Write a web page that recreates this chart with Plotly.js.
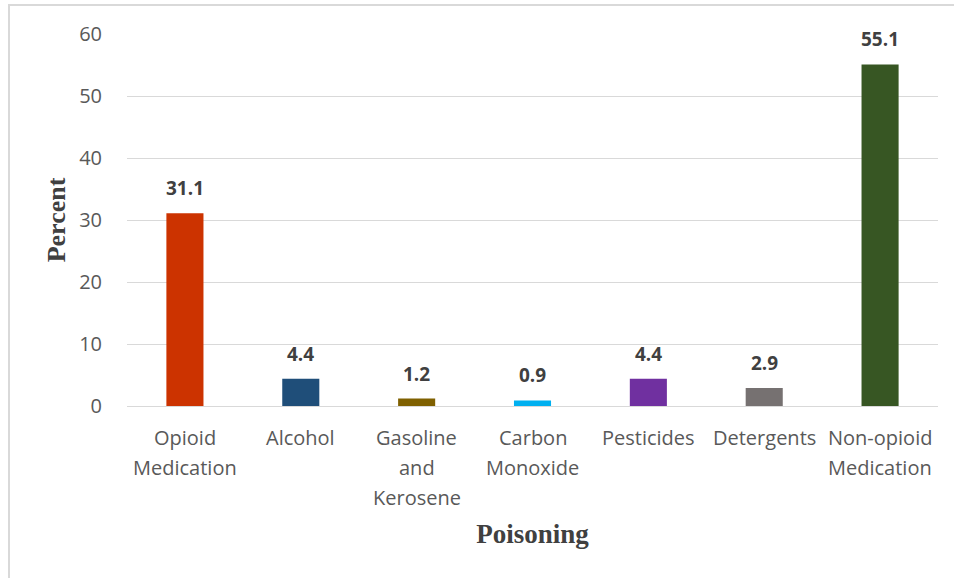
<!DOCTYPE html>
<html>
<head>
<meta charset="utf-8">
<script src="https://cdn.plot.ly/plotly-3.0.1.min.js"></script>
<style>
  html, body { margin: 0; padding: 0; background: #ffffff; }
  #chart { width: 954px; height: 578px; }
</style>
</head>
<body>
<div id="chart"></div>
<script>
// Share of poisoning cases by agent
const categories = [
  "Opioid Medication",
  "Alcohol",
  "Gasoline and Kerosene",
  "Carbon Monoxide",
  "Pesticides",
  "Detergents",
  "Non-opioid Medication"
];
// category names broken into the lines shown under the axis
const categoryLines = [
  ["Opioid", "Medication"],
  ["Alcohol"],
  ["Gasoline", "and", "Kerosene"],
  ["Carbon", "Monoxide"],
  ["Pesticides"],
  ["Detergents"],
  ["Non-opioid", "Medication"]
];
const percents = [31.1, 4.4, 1.2, 0.9, 4.4, 2.9, 55.1];
const barColors = ["#cc3300", "#1f4e79", "#7f6000", "#00b0f0", "#7030a0", "#767171", "#375623"];
const yTicks = [0, 10, 20, 30, 40, 50, 60];

const trace = {
  type: "bar",
  x: categories,
  y: percents,
  marker: { color: barColors },
  hoverinfo: "x+y",
  cliponaxis: false
};

// value labels sit a fixed distance above each bar top
const valueLabels = categories.map((c, i) => ({
  x: c,
  y: percents[i],
  xref: "x",
  yref: "y",
  text: "<b>" + percents[i].toFixed(1) + "</b>",
  showarrow: false,
  yanchor: "bottom",
  yshift: 10,
  font: { family: "Open Sans, sans-serif", size: 19, color: "#404040" }
}));

// category labels, one annotation per line for Office-like line spacing
const lineGap = 30;
const categoryLabels = [];
categories.forEach((c, i) => {
  categoryLines[i].forEach((line, k) => {
    categoryLabels.push({
      x: c,
      y: 0,
      xref: "x",
      yref: "paper",
      text: line,
      showarrow: false,
      yanchor: "middle",
      yshift: -(31 + lineGap * k),
      font: { family: "Open Sans, sans-serif", size: 20, color: "#595959" }
    });
  });
});

const layout = {
  width: 954,
  height: 578,
  margin: { l: 127, r: 16, t: 34, b: 172 },
  paper_bgcolor: "#ffffff",
  plot_bgcolor: "#ffffff",
  showlegend: false,
  bargap: 0.68,
  font: { family: "Open Sans, sans-serif", color: "#595959", size: 20 },
  xaxis: {
    type: "category",
    showgrid: false,
    showline: true,
    linecolor: "#d9d9d9",
    linewidth: 1,
    showticklabels: false,
    ticks: "",
    title: {
      text: "<b>Poisoning</b>",
      font: { family: "Liberation Serif, Times New Roman, serif", size: 27, color: "#404040" },
      standoff: 118
    },
    automargin: false,
    fixedrange: true
  },
  yaxis: {
    range: [0, 60],
    tickvals: yTicks,
    showgrid: true,
    gridcolor: "#d9d9d9",
    gridwidth: 1,
    zeroline: true,
    zerolinecolor: "#d9d9d9",
    showline: false,
    ticks: "outside",
    ticklen: 20,
    tickcolor: "rgba(0,0,0,0)",
    tickfont: { family: "Open Sans, sans-serif", size: 20, color: "#595959" },
    title: {
      text: "<b>Percent</b>",
      font: { family: "Liberation Serif, Times New Roman, serif", size: 26, color: "#404040" },
      standoff: 6
    },
    fixedrange: true
  },
  annotations: valueLabels.concat(categoryLabels),
  shapes: [{
    type: "rect",
    xref: "paper", yref: "paper",
    x0: -0.1455, x1: 1.03, y0: -0.5, y1: 1.078,
    line: { color: "#d9d9d9", width: 2 },
    fillcolor: "rgba(0,0,0,0)",
    layer: "below"
  }]
};

Plotly.newPlot("chart", [trace], layout, { displayModeBar: false, staticPlot: true });
</script>
</body>
</html>
